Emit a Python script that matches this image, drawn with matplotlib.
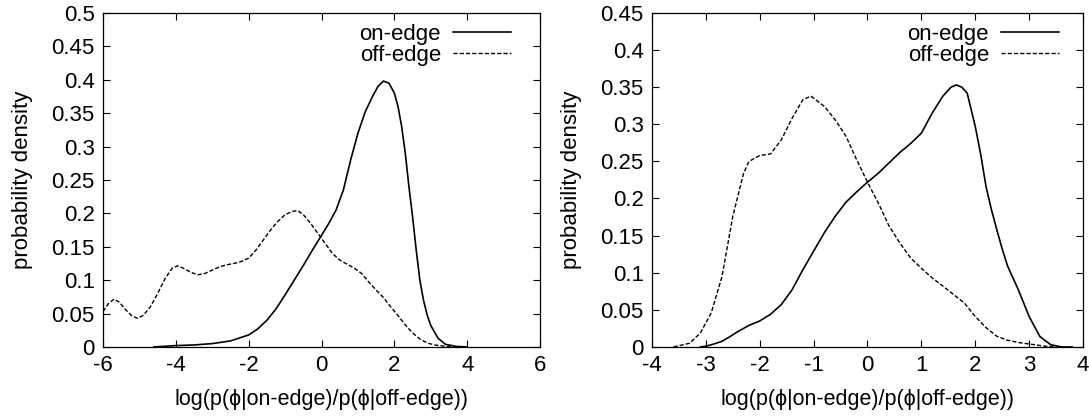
import matplotlib
matplotlib.use("Agg")
import matplotlib.pyplot as plt

plt.rcParams['font.family'] = ['Liberation Sans', 'DejaVu Sans']
plt.rcParams['axes.unicode_minus'] = False

# left panel
left_on_x = [-4.6, -4, -3.5, -3, -2.5, -2, -1.75, -1.5, -1.25, -1, -0.75, -0.5, -0.25, 0,
             0.2, 0.4, 0.6, 0.8, 1.0, 1.2, 1.4, 1.55, 1.7, 1.85, 2.0, 2.1, 2.2, 2.3, 2.4,
             2.5, 2.6, 2.7, 2.8, 2.9, 3.0, 3.2, 3.4, 3.7, 4.0]
left_on_y = [0, 0.002, 0.003, 0.005, 0.009, 0.018, 0.027, 0.04, 0.057, 0.078, 0.1, 0.122,
             0.145, 0.167, 0.185, 0.205, 0.235, 0.28, 0.32, 0.352, 0.375, 0.39, 0.398,
             0.395, 0.38, 0.36, 0.33, 0.29, 0.24, 0.195, 0.145, 0.1, 0.07, 0.048, 0.032,
             0.013, 0.004, 0.0008, 0]
left_off_x = [-6, -5.85, -5.7, -5.55, -5.4, -5.2, -5.05, -4.9, -4.7, -4.5, -4.3, -4.1, -3.95,
              -3.8, -3.6, -3.4, -3.2, -3.0, -2.8, -2.6, -2.4, -2.2, -2.0, -1.8, -1.6, -1.4,
              -1.2, -1.0, -0.8, -0.65, -0.5, -0.3, -0.1, 0.1, 0.3, 0.5, 0.7, 0.9, 1.1, 1.3,
              1.5, 1.7, 1.9, 2.1, 2.3, 2.5, 2.7, 2.9, 3.1, 3.4, 3.7]
left_off_y = [0.053, 0.065, 0.0715, 0.067, 0.057, 0.046, 0.043, 0.047, 0.06, 0.08, 0.102,
              0.118, 0.1215, 0.118, 0.112, 0.108, 0.11, 0.115, 0.12, 0.123, 0.125, 0.128,
              0.133, 0.145, 0.16, 0.175, 0.188, 0.198, 0.203, 0.204, 0.198, 0.185, 0.17,
              0.155, 0.14, 0.13, 0.124, 0.118, 0.11, 0.097, 0.085, 0.074, 0.06, 0.047,
              0.033, 0.021, 0.012, 0.006, 0.003, 0.001, 0]

# right panel
right_on_x = [-3.1, -3.0, -2.85, -2.7, -2.55, -2.4, -2.2, -2.0, -1.8, -1.6, -1.4, -1.2, -1.0,
              -0.8, -0.6, -0.4, -0.2, 0, 0.2, 0.4, 0.6, 0.8, 1.0, 1.2, 1.4, 1.55, 1.65,
              1.75, 1.85, 2.0, 2.1, 2.2, 2.3, 2.4, 2.5, 2.6, 2.8, 3.0, 3.2, 3.4, 3.6, 3.8]
right_on_y = [0, 0.001, 0.004, 0.0076, 0.014, 0.021, 0.029, 0.035, 0.044, 0.057, 0.077,
              0.104, 0.129, 0.154, 0.176, 0.195, 0.209, 0.222, 0.234, 0.248, 0.262, 0.274,
              0.288, 0.315, 0.338, 0.35, 0.353, 0.35, 0.342, 0.297, 0.26, 0.216, 0.185,
              0.158, 0.132, 0.109, 0.077, 0.041, 0.014, 0.003, 0, 0]
right_off_x = [-3.6, -3.3, -3.1, -2.9, -2.7, -2.5, -2.3, -2.2, -2.0, -1.8, -1.6, -1.4, -1.2,
               -1.05, -0.8, -0.6, -0.4, -0.2, 0, 0.2, 0.4, 0.6, 0.8, 1.0, 1.2, 1.4, 1.6,
               1.8, 2.0, 2.2, 2.4, 2.6, 2.8, 3.0, 3.3, 3.5]
right_off_y = [0, 0.005, 0.019, 0.046, 0.095, 0.176, 0.234, 0.25, 0.258, 0.26, 0.279, 0.308,
               0.333, 0.338, 0.324, 0.306, 0.284, 0.252, 0.222, 0.194, 0.163, 0.14, 0.12,
               0.106, 0.093, 0.082, 0.0705, 0.059, 0.041, 0.026, 0.0144, 0.009, 0.006,
               0.004, 0.001, 0]

xlabel = "log(p(\u03d5|on-edge)/p(\u03d5|off-edge))"

fig = plt.figure(figsize=(10.89, 4.17), dpi=100)
ax1 = fig.add_axes([0.0946, 0.168, 0.4013, 0.801])
ax2 = fig.add_axes([0.5987, 0.168, 0.3958, 0.801])

panels = [
    (ax1, left_on_x, left_on_y, left_off_x, left_off_y, (-6, 6), 2, (0, 0.5), 0.959),
    (ax2, right_on_x, right_on_y, right_off_x, right_off_y, (-4, 4), 1, (0, 0.45), 0.97),
]
for ax, onx, ony, offx, offy, xl, xs, yl, lgx in panels:
    ax.plot(onx, ony, color="black", lw=1.2, label="on-edge")
    ax.plot(offx, offy, color="black", lw=1.0, dashes=(3, 1.5), label="off-edge")
    ax.set_xlim(*xl)
    ax.set_ylim(*yl)
    ax.set_xticks(range(xl[0], xl[1] + 1, xs))
    nt = int(round(yl[1] / 0.05))
    ax.set_yticks([round(i * 0.05, 2) for i in range(nt + 1)])
    ax.set_yticklabels(["%g" % round(i * 0.05, 2) for i in range(nt + 1)])
    ax.tick_params(direction="in", top=True, right=True, length=5, width=0.8,
                   labelsize=16, pad=6)
    for s in ax.spines.values():
        s.set_linewidth(0.9)
    ax.set_xlabel(xlabel, fontsize=15.5, labelpad=9)
    ax.set_ylabel("probability density", fontsize=16, labelpad=13)
    ax.legend(loc="upper right", bbox_to_anchor=(lgx, 1.0), frameon=False,
              markerfirst=False, fontsize=16, handlelength=2.6, handletextpad=0.55,
              labelspacing=0.0, borderaxespad=0.0, borderpad=0.5)

fig.savefig("out.png", dpi=100)
